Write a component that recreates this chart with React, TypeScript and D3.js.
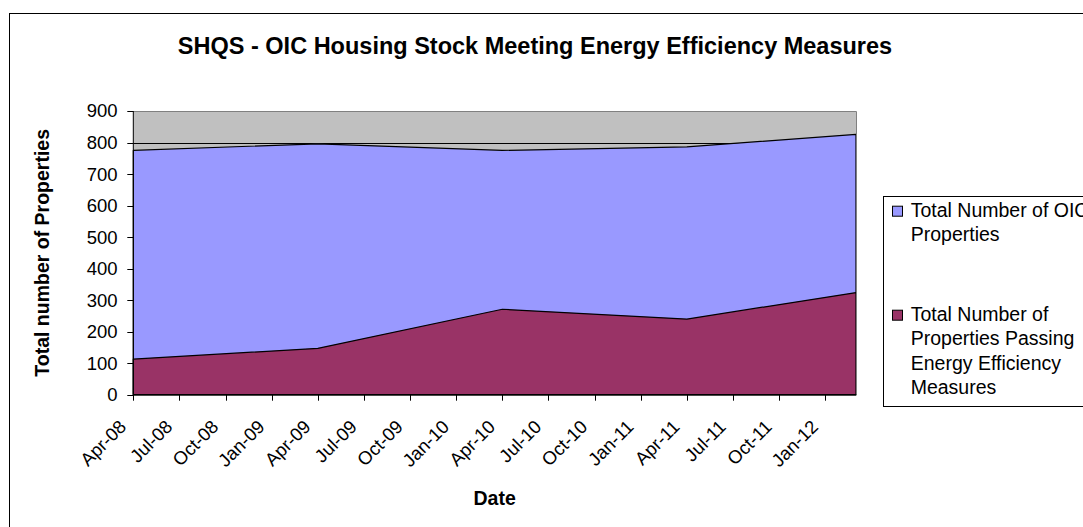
import { useEffect, useRef } from 'react';
import * as d3 from 'd3';

const dates = ['Apr-08', 'Apr-09', 'Apr-10', 'Apr-11', 'Mar-12'];
const totalProperties = [775, 796, 775, 786, 826];
const passingProperties = [113, 147, 271, 240, 324];
const xTickLabels = [
  'Apr-08', 'Jul-08', 'Oct-08', 'Jan-09', 'Apr-09', 'Jul-09', 'Oct-09', 'Jan-10',
  'Apr-10', 'Jul-10', 'Oct-10', 'Jan-11', 'Apr-11', 'Jul-11', 'Oct-11', 'Jan-12',
];
const yTicks = [0, 100, 200, 300, 400, 500, 600, 700, 800, 900];
const legendItems = [
  { lines: ['Total Number of OIC', 'Properties'], color: '#9999FF' },
  { lines: ['Total Number of', 'Properties Passing', 'Energy Efficiency', 'Measures'], color: '#993366' },
];

const FONT = "Arial, 'Liberation Sans', sans-serif";

const parse = d3.timeParse('%b-%y');
// Excel date axis with month base unit -> position by month index
const monthIndex = (s: string) => {
  const d = parse(s) as Date;
  return d.getFullYear() * 12 + d.getMonth();
};

const App = () => {
  const ref = useRef<SVGSVGElement>(null);

  useEffect(() => {
    const W = 1083;
    const H = 527;
    const plot = { left: 133.3, right: 856, top: 111, bottom: 394.7 };

    const x = d3.scaleLinear()
      .domain([monthIndex(dates[0]), monthIndex(dates[dates.length - 1])])
      .range([plot.left, plot.right]);
    const y = d3.scaleLinear()
      .domain([0, 900])
      .range([plot.bottom, plot.top]);

    const svg = d3.select(ref.current);
    svg.selectAll('*').remove();
    svg.attr('width', W).attr('height', H);

    svg.append('rect').attr('width', W).attr('height', H).attr('fill', '#fff');

    // chart area border (runs off the right and bottom of the picture)
    svg.append('rect')
      .attr('x', 9.5).attr('y', 13.5)
      .attr('width', 1200).attr('height', 600)
      .attr('fill', 'none').attr('stroke', '#000');

    svg.append('text')
      .attr('x', 535).attr('y', 54.3)
      .attr('text-anchor', 'middle')
      .style('font-family', FONT).style('font-weight', 'bold').style('font-size', '23.5px')
      .text('SHQS - OIC Housing Stock Meeting Energy Efficiency Measures');

    // plot background
    svg.append('rect')
      .attr('x', plot.left).attr('y', plot.top)
      .attr('width', plot.right - plot.left).attr('height', plot.bottom - plot.top)
      .attr('fill', '#C0C0C0');

    // gridlines
    svg.append('g').selectAll('line')
      .data(yTicks.filter(t => t > 0 && t < 900))
      .enter().append('line')
      .attr('x1', plot.left).attr('x2', plot.right)
      .attr('y1', d => Math.round(y(d)) + 0.5).attr('y2', d => Math.round(y(d)) + 0.5)
      .attr('stroke', '#000');

    const area = (vals: number[]) => d3.area<number>()
      .x((_, i) => x(monthIndex(dates[i])))
      .y0(y(0))
      .y1(d => y(d))(vals);

    svg.append('path')
      .attr('d', area(totalProperties))
      .attr('fill', '#9999FF').attr('stroke', '#000').attr('stroke-width', 1.2)
      .attr('stroke-linejoin', 'round');
    svg.append('path')
      .attr('d', area(passingProperties))
      .attr('fill', '#993366').attr('stroke', '#000').attr('stroke-width', 1.2)
      .attr('stroke-linejoin', 'round');

    // plot border top / right
    svg.append('path')
      .attr('d', `M${plot.left},${plot.top + 0.5}H${plot.right + 0.5}V${plot.bottom}`)
      .attr('fill', 'none').attr('stroke', '#808080');

    // y axis
    const yAxis = svg.append('g');
    yAxis.append('line')
      .attr('x1', plot.left).attr('x2', plot.left)
      .attr('y1', plot.top).attr('y2', plot.bottom)
      .attr('stroke', '#000');
    const yt = yAxis.selectAll('g.tick').data(yTicks).enter().append('g');
    yt.append('line')
      .attr('x1', plot.left - 6).attr('x2', plot.left)
      .attr('y1', d => Math.round(y(d)) + 0.5).attr('y2', d => Math.round(y(d)) + 0.5)
      .attr('stroke', '#000');
    yt.append('text')
      .attr('x', 117.5).attr('y', d => y(d))
      .attr('dy', '0.35em')
      .attr('text-anchor', 'end')
      .style('font-family', FONT).style('font-size', '18.5px')
      .text(d => String(d));

    // x axis
    const xAxis = svg.append('g');
    xAxis.append('line')
      .attr('x1', plot.left).attr('x2', plot.right)
      .attr('y1', plot.bottom).attr('y2', plot.bottom)
      .attr('stroke', '#000').attr('stroke-width', 1.5);
    const xt = xAxis.selectAll('g.tick').data(xTickLabels).enter().append('g');
    xt.append('line')
      .attr('x1', d => Math.round(x(monthIndex(d))) + 0.5)
      .attr('x2', d => Math.round(x(monthIndex(d))) + 0.5)
      .attr('y1', plot.bottom).attr('y2', plot.bottom + 6)
      .attr('stroke', '#000');
    xt.append('text')
      .attr('transform', d => `translate(${x(monthIndex(d)) - 6},428) rotate(-45)`)
      .attr('text-anchor', 'end')
      .style('font-family', FONT).style('font-size', '18.5px')
      .text(d => d);

    svg.append('text')
      .attr('x', (plot.left + plot.right) / 2).attr('y', 505)
      .attr('text-anchor', 'middle')
      .style('font-family', FONT).style('font-weight', 'bold').style('font-size', '19.5px')
      .text('Date');

    svg.append('text')
      .attr('transform', `translate(49,${(plot.top + plot.bottom) / 2}) rotate(-90)`)
      .attr('text-anchor', 'middle')
      .style('font-family', FONT).style('font-weight', 'bold').style('font-size', '19.5px')
      .text('Total number of Properties');

    // legend
    const legend = svg.append('g');
    legend.append('rect')
      .attr('x', 883.5).attr('y', 196.5)
      .attr('width', 300).attr('height', 210)
      .attr('fill', '#fff').attr('stroke', '#000');
    const starts = [216.7, 320.7];
    legendItems.forEach((item, i) => {
      legend.append('rect')
        .attr('x', 892.5).attr('y', starts[i] - 10.5)
        .attr('width', 10).attr('height', 10)
        .attr('fill', item.color).attr('stroke', '#000');
      legend.append('text')
        .style('font-family', FONT).style('font-size', '19.5px')
        .selectAll('tspan').data(item.lines).enter().append('tspan')
        .attr('x', 910.7).attr('y', (_, j) => starts[i] + j * 24.4)
        .text(d => d);
    });
  }, []);

  return (
    <svg ref={ref} style={{ position: 'absolute', left: 0, top: 0, display: 'block' }} />
  );
};

export default App;
